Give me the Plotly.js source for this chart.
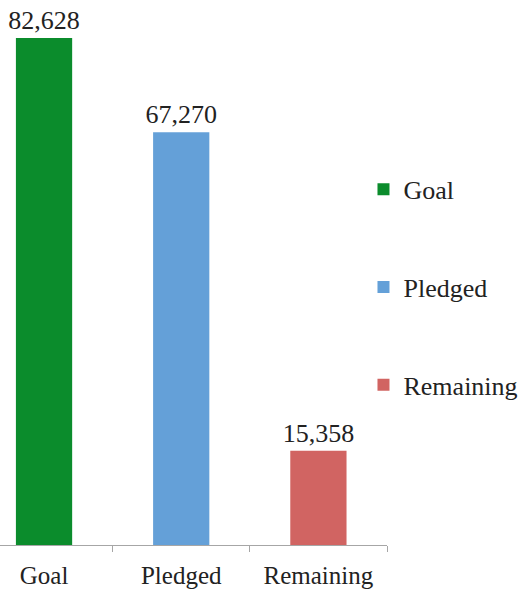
<!DOCTYPE html>
<html><head><meta charset="utf-8">
<script src="https://cdn.plot.ly/plotly-3.0.1.min.js"></script>
<style>html,body{margin:0;padding:0;background:#fff}#c{width:518px;height:592px}</style>
</head><body><div id="c"></div>
<script>
const categories = ["Goal", "Pledged", "Remaining"];
const values = [82628, 67270, 15358];
const colors = ["#0b8c2c", "#64a0d8", "#d16462"];
const FONT = "Liberation Serif, serif";

const traces = categories.map((c, i) => ({
  type: "bar",
  name: c,
  x: [c],
  y: [values[i]],
  width: 0.41,
  marker: {color: colors[i]},
  text: [values[i].toLocaleString("en-US")],
  textposition: "outside",
  constraintext: "none",
  textfont: {family: FONT, size: 26, color: "#222"},
  cliponaxis: false,
  legendgroup: c,
  hoverinfo: "skip"
}));

const layout = {
  width: 518, height: 592,
  margin: {l: 0, r: 131, t: 0, b: 47, autoexpand: false},
  barmode: "overlay",
  paper_bgcolor: "#fff", plot_bgcolor: "#fff",
  showlegend: true,
  legend: {
    xref: "container", yref: "container",
    x: 0.7017, xanchor: "left",
    y: 0.72, yanchor: "top",
    font: {family: FONT, size: 26, color: "#222"},
    tracegroupgap: 61,
    itemwidth: 30,
    bgcolor: "rgba(0,0,0,0)"
  },
  xaxis: {
    type: "category",
    range: [-0.321, 2.5],
    tickson: "boundaries",
    ticks: "outside", ticklen: 6, tickcolor: "#a6a6a6",
    showline: true, linecolor: "#a6a6a6", linewidth: 1,
    showgrid: false, zeroline: false,
    tickfont: {family: FONT, size: 25, color: "#222"},
    ticklabelstandoff: 8,
    automargin: false
  },
  yaxis: {
    range: [0, 88820],
    visible: false, showgrid: false, zeroline: false
  }
};
Plotly.newPlot("c", traces, layout, {staticPlot: true, displayModeBar: false});
</script></body></html>
